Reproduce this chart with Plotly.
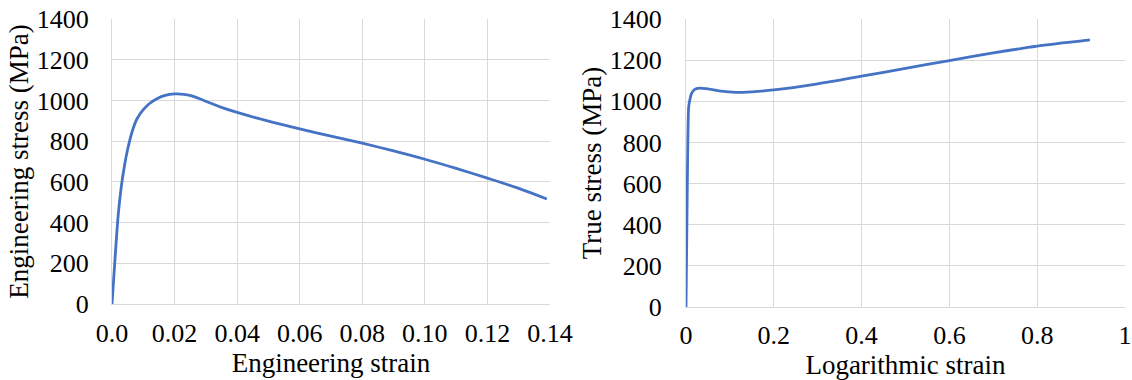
import plotly.graph_objects as go

# Left panel: engineering stress-strain
eng_strain = [0, 0.001, 0.002, 0.003, 0.004, 0.005, 0.0065, 0.008, 0.010, 0.012, 0.0145, 0.017,
              0.020, 0.023, 0.026, 0.030, 0.035, 0.040, 0.050, 0.060, 0.070, 0.080, 0.090,
              0.100, 0.110, 0.120, 0.130, 0.139]
eng_stress = [0, 230, 440, 580, 680, 760, 850, 910, 955, 985, 1010, 1025,
              1032, 1030, 1020, 996, 966, 941, 898, 860, 825, 790, 752,
              711, 666, 618, 568, 516]

# Right panel: true stress - logarithmic strain
log_strain = [0, 0.003, 0.006, 0.009, 0.013, 0.02, 0.03, 0.045, 0.06, 0.08, 0.114, 0.15,
              0.2, 0.3, 0.4, 0.5, 0.6, 0.7, 0.8, 0.92]
true_stress = [0, 600, 970, 1010, 1040, 1058, 1064, 1062, 1057, 1049, 1043, 1046,
               1055, 1085, 1122, 1160, 1198, 1235, 1268, 1298]

x1_ticks = [0, 0.02, 0.04, 0.06, 0.08, 0.10, 0.12, 0.14]
x1_labels = ["0.0", "0.02", "0.04", "0.06", "0.08", "0.10", "0.12", "0.14"]
x2_ticks = [0, 0.2, 0.4, 0.6, 0.8, 1.0]
x2_labels = ["0", "0.2", "0.4", "0.6", "0.8", "1"]
y_ticks = [0, 200, 400, 600, 800, 1000, 1200, 1400]

BLUE = "#4472C4"
GRID = "#d9d9d9"
FONT = "Liberation Serif"

fig = go.Figure()
fig.add_trace(go.Scatter(x=eng_strain, y=eng_stress, mode="lines",
                         line=dict(color=BLUE, width=2.8, shape="spline", smoothing=0.8),
                         xaxis="x", yaxis="y", showlegend=False))
fig.add_trace(go.Scatter(x=log_strain, y=true_stress, mode="lines",
                         line=dict(color=BLUE, width=2.8, shape="spline", smoothing=0.6),
                         xaxis="x2", yaxis="y2", showlegend=False))

tickfont = dict(family=FONT, size=26, color="black")
titlefont = dict(family=FONT, size=27, color="black")

common = dict(showgrid=True, gridcolor=GRID, gridwidth=1.3, showline=True, linecolor=GRID, linewidth=1.3,
              zeroline=False, ticks="", tickfont=tickfont, automargin=False, mirror=False,
              ticklabeloverflow="allow")

fig.update_layout(
    template="none",
    width=1132, height=380,
    margin=dict(l=0, r=0, t=0, b=0),
    font=dict(family=FONT, size=26, color="black"),
    paper_bgcolor="white", plot_bgcolor="white",
    xaxis=dict(domain=[112/1132, 550/1132], range=[0, 0.14], tickvals=x1_ticks, ticktext=x1_labels,
               title=dict(text="Engineering strain", font=titlefont, standoff=2), anchor="y",
               ticklabelstandoff=6, **common),
    yaxis=dict(domain=[76/380, 361/380], range=[0, 1400], tickvals=y_ticks,
               title=dict(text="Engineering stress (MPa)", font=titlefont, standoff=0), anchor="x",
               ticklabelstandoff=17, **common),
    xaxis2=dict(domain=[686/1132, 1125/1132], range=[0, 1.0], tickvals=x2_ticks, ticktext=x2_labels,
                title=dict(text="Logarithmic strain", font=titlefont, standoff=5), anchor="y2",
                ticklabelstandoff=5, **common),
    yaxis2=dict(domain=[73/380, 361/380], range=[0, 1400], tickvals=y_ticks,
                title=dict(text="True stress (MPa)", font=titlefont, standoff=0), anchor="x2",
                ticklabelstandoff=18, **common),
)

fig.write_html("out.html")
